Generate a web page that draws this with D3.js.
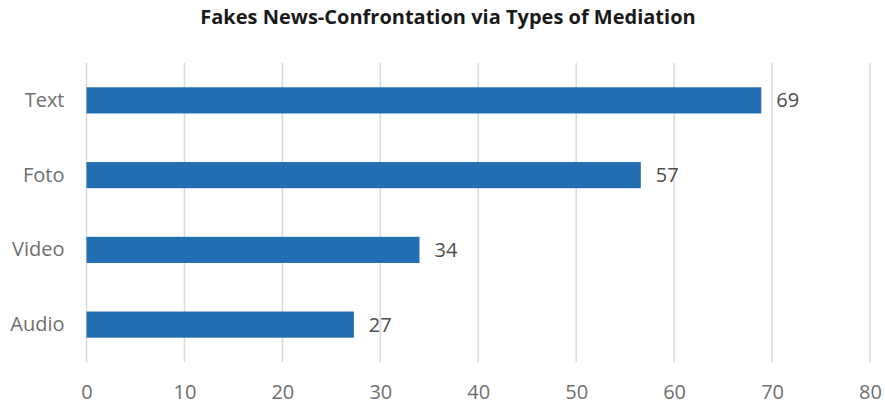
<!DOCTYPE html>
<html>
<head>
<meta charset="utf-8">
<script src="https://cdnjs.cloudflare.com/ajax/libs/d3/7.8.5/d3.min.js"></script>
<style>
  body { margin: 0; background: #fff; }
  svg text { font-family: "Open Sans", "Noto Sans", sans-serif; }
</style>
</head>
<body>
<div id="chart"></div>
<script>
// data
const categories = ['Text', 'Foto', 'Video', 'Audio'];
const values = [68.9, 56.6, 34.0, 27.3];
const tickValues = [0, 10, 20, 30, 40, 50, 60, 70, 80];
const title = 'Fakes News-Confrontation via Types of Mediation';

const width = 885, height = 405;
const margin = {top: 63, right: 15, bottom: 43, left: 86.5};

const svg = d3.select('#chart').append('svg')
    .attr('width', width)
    .attr('height', height);

let x = d3.scaleLinear().domain([0, 80]).range([margin.left, 870]);
let y = d3.scaleBand().domain(categories)
    .range([margin.top, height - margin.bottom])
    .paddingInner(0.65).paddingOuter(0.325);

// title
svg.append('text')
    .attr('x', 448)
    .attr('y', 24)
    .attr('text-anchor', 'middle')
    .style('font-size', '20px')
    .style('font-weight', 'bold')
    .attr('fill', '#1a1a1a')
    .text(title);

// vertical gridlines
svg.append('g').selectAll('line').data(tickValues).enter()
    .append('line')
    .attr('x1', d => x(d)).attr('x2', d => x(d))
    .attr('y1', margin.top).attr('y2', height - margin.bottom)
    .attr('stroke', '#d9d9d9')
    .attr('stroke-width', 1.5);

// x axis labels
let xAxis = d3.axisBottom(x).tickValues(tickValues).tickSize(0).tickPadding(23);
let gx = svg.append('g')
    .attr('transform', `translate(0,${height - margin.bottom})`)
    .call(xAxis);
gx.select('.domain').remove();
gx.selectAll('text')
    .style('font-size', '20px')
    .attr('fill', '#6f6f6f');

// y axis labels
let yAxis = d3.axisLeft(y).tickSize(0).tickPadding(22);
let gy = svg.append('g')
    .attr('transform', `translate(${margin.left},0)`)
    .call(yAxis);
gy.select('.domain').remove();
gy.selectAll('text')
    .style('font-size', '20px')
    .attr('fill', '#6f6f6f');

// bars
let rows = categories.map((c, i) => ({cat: c, val: values[i]}));
svg.append('g').selectAll('rect').data(rows).enter()
    .append('rect')
    .attr('x', x(0))
    .attr('y', d => y(d.cat))
    .attr('width', d => x(d.val) - x(0))
    .attr('height', y.bandwidth())
    .attr('fill', '#236eb2');

// value labels
svg.append('g').selectAll('text').data(rows).enter()
    .append('text')
    .attr('x', d => x(d.val) + 15)
    .attr('y', d => y(d.cat) + y.bandwidth() / 2)
    .attr('dy', '0.35em')
    .style('font-size', '20px')
    .attr('fill', '#4d4d4d')
    .text(d => d3.format('.0f')(d.val));
</script>
</body>
</html>
